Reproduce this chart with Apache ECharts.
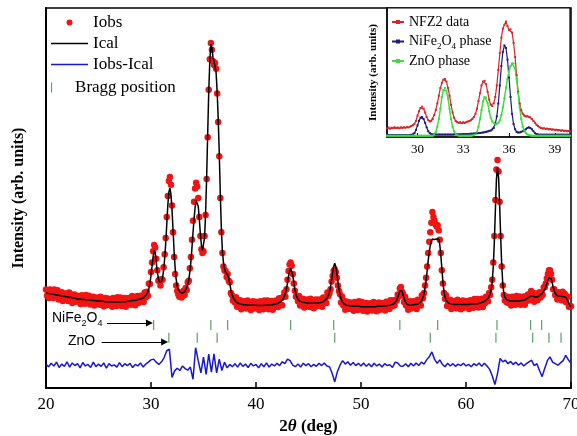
<!DOCTYPE html>
<html><head><meta charset="utf-8">
<script src="https://cdn.jsdelivr.net/npm/echarts@6/dist/echarts.min.js"></script>
<style>html,body{margin:0;padding:0;background:#fff}#c{width:577px;height:436px}</style>
</head><body><div id="c"></div>
<script>
// ---- Main pattern, observed + calculated: sampled every 0.1 deg from 20 to 70 (one row = one degree)
const mainStart = 20, mainStep = 0.1;
const iobs = [
25.9,24.3,25.2,23.7,25.9,24.4,25.3,23.7,25.9,24.4,
24.0,25.7,23.3,24.8,24.0,25.2,22.9,24.8,23.5,24.9,
24.2,22.9,25.1,23.2,24.6,22.4,24.2,24.6,22.7,23.4,
24.3,22.7,23.7,22.1,24.4,22.9,23.9,22.2,24.5,23.0,
22.7,24.3,22.0,23.5,22.7,24.0,21.7,23.7,22.3,23.8,
23.1,21.9,24.0,22.2,23.6,21.5,23.2,23.7,21.8,22.6,
23.5,21.9,22.9,21.4,23.7,22.2,23.2,21.6,23.9,22.4,
22.1,23.8,21.6,23.1,22.4,23.7,21.4,23.5,22.2,23.7,
23.1,21.9,24.2,22.4,23.8,21.8,23.6,24.2,22.4,23.2,
24.3,22.8,23.9,22.6,25.1,23.9,25.3,24.3,27.5,27.4,
30.5,33.0,36.0,37.6,37.0,34.0,31.0,28.2,28.5,27.0,
28.6,28.5,31.8,35.2,39.5,45.0,50.5,54.5,55.5,53.5,
48.0,41.0,34.5,30.0,27.0,25.5,24.6,24.0,25.0,23.8,
24.2,25.6,24.5,26.3,25.8,27.8,28.2,31.5,34.5,39.0,
44.0,49.0,52.5,54.0,53.0,50.0,45.0,40.0,36.5,35.5,
36.0,40.0,45.5,55.0,66.0,78.5,86.5,90.8,89.0,86.0,
85.0,85.5,84.0,77.5,70.0,61.0,50.0,41.0,35.5,32.0,
31.0,30.8,29.2,30.0,28.2,27.8,25.0,24.5,23.0,23.6,
22.5,23.9,21.4,22.7,21.9,23.1,20.7,22.7,21.3,22.8,
22.1,20.9,23.0,21.2,22.6,20.5,22.3,22.8,20.9,21.7,
22.7,21.0,22.0,20.5,22.8,21.3,22.3,20.7,23.0,21.6,
21.3,23.0,20.7,22.2,21.6,22.9,20.6,22.7,21.4,23.0,
22.4,21.3,23.6,22.0,23.6,21.8,24.0,25.1,24.0,26.0,
28.5,30.8,32.5,33.0,32.2,30.0,27.5,25.6,24.0,24.2,
22.8,24.2,21.7,23.1,22.3,23.5,21.2,23.1,21.8,23.3,
22.5,21.3,23.5,21.7,23.1,21.0,22.8,23.3,21.5,22.3,
23.3,21.8,22.8,21.4,23.8,22.5,23.7,22.4,25.1,24.2,
25.0,26.0,28.0,29.5,30.8,31.2,30.5,29.0,27.0,25.5,
24.7,22.5,24.0,21.8,22.9,20.6,22.3,22.7,20.8,21.5,
22.5,20.9,21.8,20.3,22.6,21.1,22.1,20.5,22.8,21.3,
20.9,22.6,20.3,21.8,21.1,22.4,20.1,22.1,20.8,22.3,
21.6,20.4,22.6,20.8,22.2,20.2,22.0,22.5,20.6,21.4,
22.4,20.8,21.9,20.4,22.7,21.3,22.3,20.8,23.1,21.7,
21.6,23.1,21.8,23.2,23.0,24.6,24.0,26.2,26.6,25.3,
24.8,22.6,24.0,21.7,22.8,20.6,22.3,22.8,20.9,21.7,
22.8,21.2,22.3,20.8,23.2,21.8,23.0,21.7,24.4,23.6,
25.0,27.0,29.0,32.0,35.5,38.5,41.0,43.5,46.3,45.0,
44.0,43.0,42.5,42.8,41.5,39.0,35.5,31.0,27.5,25.0,
23.5,24.4,21.6,22.8,22.0,23.2,20.8,22.8,21.4,22.9,
22.2,21.0,23.2,21.4,22.8,20.7,22.5,23.0,21.1,21.9,
22.9,21.3,22.3,20.8,23.1,21.7,22.7,21.1,23.4,22.0,
21.7,23.4,21.2,22.7,22.1,23.5,21.3,23.4,22.3,24.0,
23.5,22.8,25.0,24.5,26.5,28.5,33.0,40.0,49.5,57.5,
60.0,57.0,49.0,40.0,32.0,27.0,24.5,23.0,24.0,22.5,
24.0,22.3,23.3,21.7,24.0,22.5,23.5,21.9,24.2,22.7,
22.4,24.1,21.9,23.4,22.8,24.1,21.9,24.0,22.9,24.6,
24.1,23.1,25.5,23.7,25.0,22.7,24.4,24.9,23.1,24.0,
25.2,23.8,25.0,24.5,26.5,26.5,27.5,28.8,30.0,31.0,
31.0,30.0,28.5,26.0,26.0,24.5,25.0,23.3,25.2,23.8,
24.4,23.1,25.3,23.4,24.8,22.6,24.1,24.0,21.4,21.6,
21.5
];
const ical = [
25.0,25.0,24.9,24.9,24.8,24.8,24.7,24.7,24.6,24.6,
24.5,24.5,24.4,24.4,24.3,24.2,24.2,24.1,24.1,24.0,
24.0,23.9,23.9,23.8,23.8,23.7,23.7,23.6,23.6,23.5,
23.4,23.4,23.4,23.3,23.3,23.3,23.3,23.2,23.2,23.2,
23.2,23.1,23.1,23.1,23.0,23.0,23.0,23.0,22.9,22.9,
22.9,22.9,22.8,22.8,22.8,22.8,22.7,22.7,22.7,22.7,
22.6,22.6,22.6,22.6,22.6,22.6,22.6,22.6,22.6,22.6,
22.6,22.6,22.7,22.7,22.7,22.7,22.7,22.8,22.8,22.8,
22.9,22.9,23.0,23.0,23.0,23.1,23.1,23.2,23.3,23.3,
23.4,23.5,23.6,23.8,24.0,24.3,24.7,25.3,26.2,27.6,
29.6,32.0,34.5,36.2,35.6,33.2,30.6,28.8,27.9,27.6,
28.0,29.0,31.0,34.0,38.0,43.0,48.0,51.5,52.6,51.0,
47.0,41.5,36.0,31.5,28.5,26.8,25.9,25.4,25.2,25.1,
25.0,25.1,25.3,25.7,26.3,27.2,28.6,30.5,33.2,36.8,
40.8,44.5,47.5,49.3,49.4,47.8,44.5,40.6,37.6,36.2,
36.5,39.5,46.0,55.5,67.0,78.0,86.0,90.5,89.5,87.0,
86.0,85.5,83.0,78.0,71.0,62.0,51.0,42.0,36.0,33.0,
31.5,30.5,30.0,29.8,29.0,27.5,26.0,24.8,24.0,23.4,
23.0,22.7,22.5,22.3,22.2,22.1,22.0,22.0,21.9,21.9,
21.9,21.9,21.8,21.8,21.8,21.8,21.8,21.8,21.8,21.8,
21.8,21.7,21.7,21.7,21.7,21.7,21.7,21.7,21.7,21.8,
21.8,21.8,21.8,21.8,21.9,21.9,21.9,22.0,22.0,22.1,
22.2,22.3,22.4,22.6,22.8,23.1,23.5,24.1,24.9,26.1,
27.7,29.4,30.8,31.5,31.0,29.6,27.8,26.0,24.7,23.9,
23.3,23.0,22.8,22.7,22.6,22.5,22.5,22.4,22.4,22.4,
22.3,22.3,22.3,22.3,22.3,22.3,22.3,22.3,22.4,22.4,
22.4,22.5,22.5,22.6,22.7,22.9,23.1,23.4,23.8,24.4,
25.3,26.6,28.4,30.4,32.0,32.8,32.0,30.2,28.0,26.0,
24.5,23.5,22.8,22.4,22.1,21.9,21.8,21.7,21.7,21.6,
21.6,21.6,21.5,21.5,21.5,21.5,21.5,21.5,21.5,21.5,
21.4,21.4,21.4,21.4,21.4,21.4,21.4,21.4,21.4,21.4,
21.4,21.4,21.4,21.4,21.4,21.5,21.5,21.5,21.5,21.5,
21.5,21.5,21.6,21.6,21.6,21.7,21.7,21.8,21.8,21.9,
22.0,22.1,22.3,22.6,23.1,23.8,24.7,25.6,26.0,25.6,
24.6,23.6,22.8,22.3,22.0,21.9,21.8,21.8,21.8,21.8,
21.9,21.9,22.0,22.0,22.1,22.2,22.4,22.7,23.1,23.8,
24.8,26.3,28.3,30.8,33.5,35.8,37.5,38.6,39.2,39.3,
39.1,39.0,39.2,39.5,39.2,37.8,35.0,31.5,28.0,25.5,
24.0,23.2,22.7,22.4,22.3,22.2,22.1,22.1,22.0,22.0,
22.0,22.0,22.0,22.0,22.0,22.0,22.0,22.0,22.0,22.0,
22.0,22.0,22.0,22.0,22.0,22.1,22.1,22.1,22.1,22.2,
22.2,22.2,22.3,22.3,22.4,22.5,22.6,22.7,22.9,23.1,
23.3,23.6,24.0,24.7,25.8,28.0,32.0,38.5,47.0,55.0,
58.0,55.5,48.5,40.0,32.5,27.5,25.0,23.9,23.4,23.2,
23.1,23.0,23.0,22.9,22.9,22.9,22.9,22.9,22.9,22.9,
22.9,22.9,23.0,23.0,23.1,23.1,23.2,23.3,23.5,23.7,
23.9,24.1,24.3,24.3,24.2,24.0,23.9,23.9,24.0,24.1,
24.3,24.5,24.7,25.0,25.4,25.9,26.6,27.5,28.4,29.0,
29.2,28.8,27.8,26.6,25.6,24.9,24.5,24.3,24.2,24.2,
24.2,24.1,24.1,24.0,24.0,23.9,23.6,23.0,22.3,21.7,
21.3
];
// ---- Difference curve: sampled every 0.25 deg from 20 to 70 (one row = one degree)
const diffStart = 20, diffStep = 0.25;
const diff = [
6.2,5.6,6.5,5.8, 6.8,5.4,6.3,5.7, 6.9,5.5,6.6,5.9, 6.4,5.3,6.7,5.8,
6.2,5.4,6.8,5.6, 6.3,5.7,6.6,5.2, 6.4,5.8,6.1,5.5, 6.7,5.6,6.4,5.9,
6.5,5.4,6.2,5.8, 6.6,5.5,6.3,6.8, 7.4,7.6,6.8,6.2, 6.9,8.0,9.8,10.2,
2.8,4.5,5.2,4.6, 5.8,5.1,4.7,5.5, 2.3,10.6,7.2,4.0, 8.1,3.6,8.9,4.2,
9.0,4.0,7.6,4.6, 6.8,5.3,6.2,5.6, 6.4,5.5,6.6,5.7, 6.3,5.4,6.5,5.8,
6.2,5.3,6.4,5.6, 6.6,5.5,6.3,5.8, 6.5,5.9,6.9,6.4, 7.6,7.2,6.0,5.6,
6.3,5.5,6.5,5.9, 6.4,5.6,6.2,5.7, 6.5,5.9,6.6,5.8, 5.6,3.9,1.6,4.3,
6.0,7.2,6.3,6.9, 6.0,6.7,5.9,6.5, 5.8,6.6,5.7,6.4, 5.6,6.5,5.8,6.3,
5.5,6.4,5.9,6.1, 5.4,6.8,6.6,5.8, 5.7,6.4,5.6,6.5, 5.8,6.6,5.9,6.8,
6.3,7.4,8.2,9.5, 7.6,6.5,7.4,6.2, 5.6,6.5,5.8,6.4, 5.7,6.3,5.9,6.5,
5.8,6.2,5.6,6.4, 5.9,6.6,5.7,6.5, 5.8,4.9,3.2,0.9, 3.8,7.8,6.9,7.3,
6.4,7.0,6.2,6.8, 6.0,6.6,5.8,6.4, 6.9,7.3,5.9,6.4, 4.6,3.0,5.2,7.2,
8.2,6.8,6.4,6.0, 6.6,7.2,8.6,7.4, 6.5
];
const braggNiFe = [30.25, 35.7, 37.3, 43.3, 47.4, 53.7, 57.3, 62.95, 66.15, 67.2];
const braggZnO = [31.7, 34.4, 36.3, 47.5, 56.6, 62.85, 66.35, 67.9, 69.05];
const braggNiFeLevel = 16.6, braggZnOLevel = 13.2;
const mainTicks = [20, 30, 40, 50, 60, 70];

// ---- Inset: sampled every 0.1 deg from 28 to 40 (one row = one degree)
const insetStart = 28, insetStep = 0.1;
const insetData = [
6.8,7.4,6.5,7.2,6.9,7.6,7.0,7.3,6.8,7.5,
7.1,7.6,7.2,7.8,7.4,8.0,8.6,9.2,10.2,12.5,
16.5,20.0,22.5,23.5,22.0,19.0,15.5,13.0,12.0,12.5,
14.0,17.0,21.0,26.0,32.0,38.0,42.0,44.5,45.0,43.0,
38.0,32.0,25.0,19.0,15.0,12.5,11.5,11.0,11.5,10.8,
11.5,10.9,11.6,12.0,12.4,13.0,14.0,15.5,18.0,22.0,
28.0,34.0,40.0,43.0,43.5,41.0,35.0,29.0,25.0,24.0,
26.0,31.0,40.0,52.0,65.0,77.0,84.0,87.0,89.5,86.0,
83.0,83.5,81.0,73.0,62.0,48.0,35.0,26.0,21.0,18.0,
16.5,16.0,16.2,15.6,15.2,14.0,12.5,11.0,9.5,8.5,
7.5,7.0,6.4,6.8,6.1,6.5,5.9,6.2,5.6,5.9,
5.3,5.7,5.1,5.4,4.8,5.2,4.6,4.9,4.5,4.7,
4.3
];
const insetNiFe = [
1.5,1.5,1.5,1.5,1.5,1.5,1.5,1.5,1.5,1.5,
1.5,1.5,1.5,1.5,1.5,1.6,1.7,2.0,3.0,5.5,
9.0,12.5,15.0,15.5,14.0,11.0,7.5,4.5,3.0,2.2,
2.0,1.9,1.9,1.9,1.9,1.9,1.9,1.9,1.9,1.9,
1.9,1.9,1.9,1.9,2.0,2.0,2.0,2.0,2.1,2.1,
2.2,2.2,2.3,2.3,2.4,2.5,2.6,2.7,2.8,2.9,
3.0,3.1,3.3,3.5,3.7,4.0,4.3,4.7,5.0,5.8,
7.0,10.0,16.0,26.0,40.0,55.0,66.0,71.0,69.0,60.0,
46.0,31.0,18.0,10.0,6.0,4.0,3.5,3.5,4.0,4.5,
5.0,6.0,7.0,7.5,7.0,6.0,4.5,3.0,2.2,2.0,
1.8,1.8,1.8,1.8,1.8,1.8,1.8,1.8,1.8,1.8,
1.8,1.8,1.8,1.8,1.8,1.8,1.8,1.8,1.8,1.8,
1.8
];
const insetZnO = [
1.0,1.0,1.0,1.0,1.0,1.0,1.0,1.0,1.0,1.0,
1.0,1.0,1.0,1.0,1.0,1.0,1.0,1.0,1.0,1.0,
1.0,1.0,1.0,1.0,1.0,1.0,1.0,1.0,1.0,1.0,
1.0,2.0,4.0,8.0,14.0,22.0,31.0,36.5,38.0,36.0,
30.0,22.0,14.0,8.0,4.5,2.5,1.5,1.0,1.0,1.0,
1.0,1.0,1.0,1.0,1.0,1.0,1.2,1.5,2.0,4.0,
8.0,14.0,21.0,27.5,31.0,30.5,26.5,20.0,15.0,12.0,
11.0,10.0,10.0,11.0,13.0,17.0,23.0,30.0,38.0,45.0,
51.0,55.0,57.0,57.0,53.0,45.0,34.0,23.0,14.0,8.0,
5.0,3.0,2.0,1.5,1.2,1.0,1.0,1.0,1.0,1.0,
1.0,1.0,1.0,1.0,1.0,1.0,1.0,1.0,1.0,1.0,
1.0,1.0,1.0,1.0,1.0,1.0,1.0,1.0,1.0,1.0,
1.0
];
const insetTicks = [30, 33, 36, 39];

function pairs(start, step, arr) {
  return arr.map((v, i) => [+(start + step * i).toFixed(3), v]);
}

const serif = 'Liberation Serif';
const sans = 'Liberation Sans';
const chart = echarts.init(document.getElementById('c'), null, {renderer: 'canvas'});

const option = {
  animation: false,
  backgroundColor: '#ffffff',
  grid: [
    {left: 46, right: 6, top: 8, bottom: 48, show: true, borderColor: '#000', borderWidth: 1.5, backgroundColor: 'transparent', outerBoundsMode: 'none', containLabel: false},
    {left: 387, right: 7, top: 8, height: 129, show: true, borderColor: '#000', borderWidth: 1.2, backgroundColor: '#fff', outerBoundsMode: 'none', containLabel: false}
  ],
  legend: [
    {
      data: [
        {name: 'Iobs', icon: 'circle'},
        {name: 'Ical', icon: 'path://M0,0h40v1.6h-40z'},
        {name: 'Iobs-Ical', icon: 'path://M0,0h40v1.6h-40z'}
      ],
      orient: 'vertical', left: 51, top: 14, padding: 0, itemWidth: 37, itemHeight: 6, itemGap: 4,
      textStyle: {fontFamily: serif, fontSize: 17, color: '#000'},
      selectedMode: false
    },
    {
      data: [{name: 'Bragg position', icon: 'path://M0,0h1.1v10h-1.1z'}],
      orient: 'vertical', left: 51, top: 79, padding: 0, itemWidth: 37, itemHeight: 10,
      textStyle: {fontFamily: serif, fontSize: 17, color: '#000'},
      selectedMode: false
    },
    {
      data: ['NFZ2 data', 'NiFe2O4 phase', 'ZnO phase'],
      orient: 'vertical', left: 391, top: 15, padding: 0, itemWidth: 12, itemHeight: 5, itemGap: 3,
      formatter: function (name) {
        if (name === 'NiFe2O4 phase') return '{a|NiFe}{s|2}{a|O}{s|4}{a| phase}';
        return '{a|' + name + '}';
      },
      textStyle: {
        fontFamily: serif, fontSize: 14, color: '#000',
        rich: {
          a: {fontFamily: serif, fontSize: 14, lineHeight: 17, color: '#000'},
          s: {fontFamily: serif, fontSize: 9, lineHeight: 17, color: '#000', padding: [10, 0, 0, 0]}
        }
      },
      selectedMode: false
    }
  ],
  xAxis: [
    {
      gridIndex: 0, type: 'value', min: 20, max: 70, interval: 10,
      axisLine: {show: true, onZero: false, lineStyle: {color: '#000', width: 2}},
      axisTick: {show: true, inside: true, length: 6, lineStyle: {color: '#000', width: 1.5}, customValues: mainTicks},
      axisLabel: {color: '#000', fontFamily: serif, fontSize: 17, margin: 8, customValues: mainTicks},
      splitLine: {show: false},
      name: '{b|2}{i|θ}{b| (deg)}', nameLocation: 'middle', nameGap: 28,
      nameTextStyle: {
        rich: {
          b: {fontFamily: serif, fontWeight: 'bold', fontSize: 17, color: '#000'},
          i: {fontFamily: serif, fontWeight: 'bold', fontStyle: 'italic', fontSize: 17, color: '#000'}
        }
      }
    },
    {
      gridIndex: 1, type: 'value', min: 28, max: 40,
      axisLine: {show: true, onZero: false, lineStyle: {color: '#000', width: 1.5}},
      axisTick: {show: true, inside: true, length: 4, lineStyle: {color: '#000', width: 1}, customValues: insetTicks},
      axisLabel: {color: '#000', fontFamily: serif, fontSize: 13, margin: 6, customValues: insetTicks},
      splitLine: {show: false}
    }
  ],
  yAxis: [
    {
      gridIndex: 0, type: 'value', min: 0, max: 100,
      axisLine: {show: true, onZero: false, lineStyle: {color: '#000', width: 2}},
      axisTick: {show: false}, axisLabel: {show: false}, splitLine: {show: false},
      name: 'Intensity (arb. units)', nameLocation: 'middle', nameGap: 19,
      nameTextStyle: {fontFamily: serif, fontWeight: 'bold', fontSize: 16, color: '#000'}
    },
    {
      gridIndex: 1, type: 'value', min: 0, max: 100,
      axisLine: {show: true, onZero: false, lineStyle: {color: '#000', width: 1.5}},
      axisTick: {show: false}, axisLabel: {show: false}, splitLine: {show: false},
      name: 'Intensity (arb. units)', nameLocation: 'middle', nameGap: 8,
      nameTextStyle: {fontFamily: serif, fontWeight: 'bold', fontSize: 11, color: '#000'}
    }
  ],
  series: [
    {
      name: 'Iobs', type: 'scatter', xAxisIndex: 0, yAxisIndex: 0,
      data: pairs(mainStart, mainStep, iobs), symbol: 'circle', symbolSize: 6.5,
      itemStyle: {color: '#f21414', opacity: 1}, z: 2, silent: true
    },
    {
      name: 'Ical', type: 'line', xAxisIndex: 0, yAxisIndex: 0,
      data: pairs(mainStart, mainStep, ical), symbol: 'none', smooth: false,
      lineStyle: {color: '#000', width: 1.5}, itemStyle: {color: '#000'}, z: 3, silent: true
    },
    {
      name: 'Iobs-Ical', type: 'line', xAxisIndex: 0, yAxisIndex: 0,
      data: pairs(diffStart, diffStep, diff), symbol: 'none',
      lineStyle: {color: '#1616d4', width: 1.5}, itemStyle: {color: '#1616d4'}, z: 3, silent: true
    },
    {
      name: 'Bragg position', type: 'scatter', xAxisIndex: 0, yAxisIndex: 0,
      data: braggNiFe.map(x => [x, braggNiFeLevel]), symbol: 'rect', symbolSize: [1.2, 10],
      itemStyle: {color: '#2e8b3e'}, silent: true,
      markLine: {
        silent: true, symbol: ['none', 'triangle'], symbolSize: 7,
        lineStyle: {color: '#000', width: 1, type: 'solid'}, label: {show: false},
        itemStyle: {color: '#000'},
        data: [[{coord: [25.8, 17.1]}, {coord: [29.85, 17.1]}]]
      }
    },
    {
      name: 'Bragg position', type: 'scatter', xAxisIndex: 0, yAxisIndex: 0,
      data: braggZnO.map(x => [x, braggZnOLevel]), symbol: 'rect', symbolSize: [1.2, 10],
      itemStyle: {color: '#2e8b3e'}, silent: true,
      markLine: {
        silent: true, symbol: ['none', 'triangle'], symbolSize: 7,
        lineStyle: {color: '#000', width: 1, type: 'solid'}, label: {show: false},
        itemStyle: {color: '#000'},
        data: [[{coord: [25.3, 12.1]}, {coord: [31.3, 12.1]}]]
      }
    },
    {
      name: 'NFZ2 data', type: 'line', xAxisIndex: 1, yAxisIndex: 1,
      data: pairs(insetStart, insetStep, insetData), symbol: 'rect', symbolSize: 2, showSymbol: true,
      lineStyle: {color: '#d6262c', width: 1.2}, itemStyle: {color: '#d6262c'}, z: 5, silent: true
    },
    {
      name: 'NiFe2O4 phase', type: 'line', xAxisIndex: 1, yAxisIndex: 1,
      data: pairs(insetStart, insetStep, insetNiFe), symbol: 'rect', symbolSize: 2, showSymbol: true,
      lineStyle: {color: '#1c1c7e', width: 1.2}, itemStyle: {color: '#1c1c7e'}, z: 5, silent: true
    },
    {
      name: 'ZnO phase', type: 'line', xAxisIndex: 1, yAxisIndex: 1,
      data: pairs(insetStart, insetStep, insetZnO), symbol: 'rect', symbolSize: 2, showSymbol: true,
      lineStyle: {color: '#3fdc3f', width: 1.5}, itemStyle: {color: '#3fdc3f'}, z: 5, silent: true
    }
  ],
  graphic: [
    {
      type: 'text', left: 52, top: 309,
      style: {
        text: '{a|NiFe}{s|2}{a|O}{s|4}',
        rich: {
          a: {fontFamily: sans, fontSize: 14, lineHeight: 17, fill: '#000'},
          s: {fontFamily: sans, fontSize: 9, lineHeight: 17, fill: '#000', padding: [10, 0, 0, 0]}
        }
      }
    },
    {
      type: 'text', left: 68, top: 334,
      style: {text: 'ZnO', fontFamily: sans, fontSize: 14, fill: '#000'}
    }
  ]
};
chart.setOption(option);
</script>
</body></html>
